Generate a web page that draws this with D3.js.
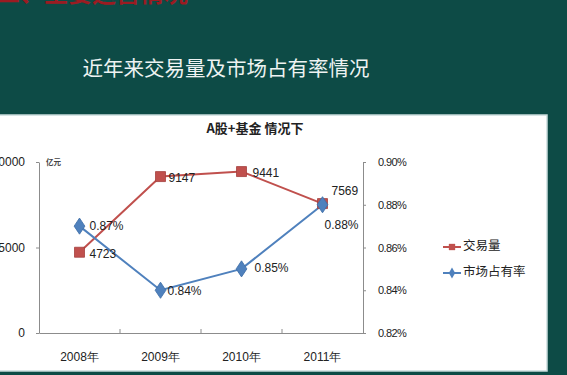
<!DOCTYPE html>
<html>
<head>
<meta charset="utf-8">
<script src="https://cdn.jsdelivr.net/npm/d3@7/dist/d3.min.js"></script>
<style>
  html, body { margin: 0; padding: 0; background: #0d4b46; overflow: hidden; }
  svg { display: block; }
  .num { font-family: "Liberation Sans", Arial, sans-serif; }
  .cjk { font-family: "Noto Sans CJK SC", sans-serif; }
</style>
</head>
<body>
<script>
(function (d3) {
  "use strict";

  /***** Data *****/
  var years = ["2008年", "2009年", "2010年", "2011年"];
  var volume = [4723, 9147, 9441, 7569];          // 交易量 (亿元)
  var share = [0.87, 0.84, 0.85, 0.88];           // 市场占有率 (%)
  var leftTicks = [0, 5000, 10000];
  var rightTicks = [0.82, 0.84, 0.86, 0.88, 0.90];
  var seriesNames = ["交易量", "市场占有率"];

  /***** Configuration *****/
  var width = 567, height = 375;
  var red = "#c0504d", blue = "#4f81bd";
  var volOffsets = [[10, 3], [8, 2], [11, 2], [9, -12]];
  var shareOffsets = [[10, 1], [7, 2], [13, 0], [2, 21]];

  var svg = d3.select("body").append("svg")
      .attr("width", width)
      .attr("height", height);

  // clipped red heading at the very top
  svg.append("text")
      .attr("class", "cjk")
      .attr("x", -4).attr("y", 2)
      .attr("font-size", 24).attr("font-weight", "bold")
      .attr("fill", "#9b1b22")
      .text("二、主要运营情况");

  svg.append("text")
      .attr("class", "cjk")
      .attr("x", 226).attr("y", 70)
      .attr("text-anchor", "middle").attr("dominant-baseline", "middle")
      .attr("font-size", 20.5)
      .attr("fill", "#eef3f2")
      .text("近年来交易量及市场占有率情况");

  // white chart panel
  svg.append("rect")
      .attr("x", -2).attr("y", 115)
      .attr("width", 549).attr("height", 256)
      .attr("fill", "#ffffff")
      .attr("stroke", "#c9dcdc").attr("stroke-width", 1.5);

  /***** Scales *****/
  var x = d3.scaleBand().domain(years).range([39, 363]);
  var yL = d3.scaleLinear().domain([0, 10000]).range([333, 162]);
  var yR = d3.scaleLinear().domain([0.82, 0.90]).range([333, 162]);
  var cx = function (i) { return x(years[i]) + x.bandwidth() / 2; };

  var g = svg.append("g");

  /***** Axes *****/
  var leftAxis = g.append("g")
      .attr("transform", "translate(39,0)")
      .call(d3.axisLeft(yL).tickValues(leftTicks).tickSize(3).tickSizeOuter(0).tickPadding(11)
        .tickFormat(d3.format("d")));
  leftAxis.selectAll("text").attr("class", "num").attr("font-size", 12).attr("fill", "#222");

  var rightAxis = g.append("g")
      .attr("transform", "translate(363,0)")
      .call(d3.axisRight(yR).tickValues(rightTicks).tickSize(3).tickSizeOuter(0).tickPadding(12)
        .tickFormat(function (d) { return d.toFixed(2) + "%"; }));
  rightAxis.selectAll("text").attr("class", "num").attr("font-size", 11)
      .attr("letter-spacing", -0.6).attr("fill", "#222");

  var bottomAxis = g.append("g")
      .attr("transform", "translate(0,333)")
      .call(d3.axisBottom(x).tickSize(0).tickSizeOuter(0).tickPadding(19));
  bottomAxis.selectAll("text").attr("class", "num").attr("font-size", 12).attr("fill", "#222");
  bottomAxis.selectAll(".tick line").remove();
  bottomAxis.selectAll(".inner")
      .data(years.slice(1))
      .enter().append("line")
      .attr("x1", function (d) { return x(d); })
      .attr("x2", function (d) { return x(d); })
      .attr("y1", 0).attr("y2", -4);

  g.selectAll(".domain, .tick line").attr("stroke", "#8c8c8c");
  bottomAxis.selectAll("line").attr("stroke", "#8c8c8c");

  g.append("text")
      .attr("class", "cjk")
      .attr("x", 46).attr("y", 165)
      .attr("font-size", 7.5).attr("font-weight", "bold").attr("fill", "#444")
      .text("亿元");

  g.append("text")
      .attr("class", "cjk")
      .attr("x", 255).attr("y", 129)
      .attr("text-anchor", "middle").attr("dominant-baseline", "middle")
      .attr("font-size", 13).attr("font-weight", "bold").attr("fill", "#222")
      .text("A股+基金 情况下");

  /***** Lines *****/
  var volLine = d3.line().x(function (d, i) { return cx(i); }).y(function (d) { return yL(d); });
  var shareLine = d3.line().x(function (d, i) { return cx(i); }).y(function (d) { return yR(d); });

  g.append("path").datum(volume)
      .attr("d", volLine).attr("fill", "none")
      .attr("stroke", red).attr("stroke-width", 2);
  g.append("path").datum(share)
      .attr("d", shareLine).attr("fill", "none")
      .attr("stroke", blue).attr("stroke-width", 2);

  var square = d3.symbol().type(d3.symbolSquare).size(100);
  var diamond = d3.symbol().type(d3.symbolDiamond).size(75);

  g.selectAll(".vmark").data(volume).enter().append("path")
      .attr("class", "vmark")
      .attr("d", square)
      .attr("transform", function (d, i) { return "translate(" + cx(i) + "," + yL(d) + ")"; })
      .attr("fill", red).attr("stroke", "#a5403d").attr("stroke-width", 0.8);

  g.selectAll(".smark").data(share).enter().append("path")
      .attr("class", "smark")
      .attr("d", diamond)
      .attr("transform", function (d, i) { return "translate(" + cx(i) + "," + yR(d) + ") scale(1.15,1)"; })
      .attr("fill", blue).attr("stroke", "#3f6fa8").attr("stroke-width", 0.8);

  /***** Data labels *****/
  g.selectAll(".vlab").data(volume).enter().append("text")
      .attr("class", "num")
      .attr("x", function (d, i) { return cx(i) + volOffsets[i][0]; })
      .attr("y", function (d, i) { return yL(d) + volOffsets[i][1]; })
      .attr("dominant-baseline", "middle")
      .attr("font-size", 12).attr("fill", "#222")
      .text(function (d) { return d; });

  g.selectAll(".slab").data(share).enter().append("text")
      .attr("class", "num")
      .attr("x", function (d, i) { return cx(i) + shareOffsets[i][0]; })
      .attr("y", function (d, i) { return yR(d) + shareOffsets[i][1]; })
      .attr("dominant-baseline", "middle")
      .attr("font-size", 12).attr("fill", "#222")
      .text(function (d) { return d.toFixed(2) + "%"; });

  /***** Legend *****/
  var legend = g.selectAll(".legend").data(seriesNames).enter().append("g")
      .attr("transform", function (d, i) { return "translate(443," + (247 + i * 26) + ")"; });
  legend.append("line")
      .attr("x1", 0).attr("x2", 18)
      .attr("stroke", function (d, i) { return i === 0 ? red : blue; })
      .attr("stroke-width", 2);
  legend.append("path")
      .attr("d", function (d, i) { return i === 0 ? d3.symbol().type(d3.symbolSquare).size(40)() : d3.symbol().type(d3.symbolDiamond).size(35)(); })
      .attr("transform", "translate(9,0)")
      .attr("fill", function (d, i) { return i === 0 ? red : blue; });
  legend.append("text")
      .attr("class", "cjk")
      .attr("x", 20).attr("dominant-baseline", "middle")
      .attr("font-size", 12.5).attr("fill", "#222")
      .text(function (d) { return d; });

})(d3);
</script>
</body>
</html>
